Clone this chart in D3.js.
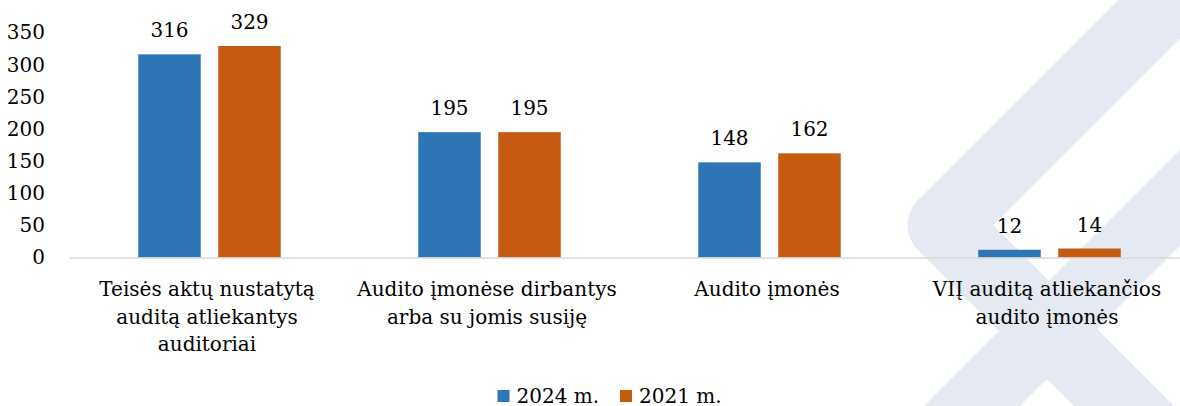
<!DOCTYPE html>
<html>
<head>
<meta charset="utf-8">
<script src="https://cdnjs.cloudflare.com/ajax/libs/d3/7.8.5/d3.min.js"></script>
<style>
  html, body { margin: 0; padding: 0; background: #fff; }
  svg { display: block; }
  svg text { font-family: "DejaVu Serif", serif; }
</style>
</head>
<body>
<script>
// chart data
const categories = [
  "Teisės aktų nustatytą\nauditą atliekantys\nauditoriai",
  "Audito įmonėse dirbantys\narba su jomis susiję",
  "Audito įmonės",
  "VIĮ auditą atliekančios\naudito įmonės"
];
const series = ["2024 m.", "2021 m."];
const values2024 = [316, 195, 148, 12];
const values2021 = [329, 195, 162, 14];
const yTicks = [0, 50, 100, 150, 200, 250, 300, 350];
const colors = ["#2e75b6", "#c55a11"];

const width = 1180, height = 406;
const baseY = 257.5, topY = 32.5;

const svg = d3.select("body").append("svg")
  .attr("width", width)
  .attr("height", height);

// background watermark (decoration)
const wm = svg.append("g").attr("fill", "none").attr("stroke", "#e4e9f2");
wm.append("path")
  .attr("d", "M1320,-151.5 L943,225 L1320,602")
  .attr("stroke-width", 71)
  .attr("stroke-linejoin", "round");
wm.append("path")
  .attr("d", "M1500,-122 L850,528")
  .attr("stroke-width", 68);

const x0 = d3.scaleBand()
  .domain(categories)
  .range([69.5, 1189.5]);

const x1 = d3.scaleBand()
  .domain(series)
  .range([68.75, 211.25])
  .paddingInner(0.21875);

const y = d3.scaleLinear()
  .domain([0, 350])
  .range([baseY, topY]);

// y axis labels
const yAxis = d3.axisLeft(y).tickValues(yTicks).tickSize(0).tickPadding(0);
svg.append("g")
  .attr("transform", "translate(45,0)")
  .call(yAxis)
  .call(g => g.select(".domain").remove())
  .selectAll("text")
  .attr("font-size", 20)
  .attr("fill", "#000");

// bars
const rows = categories.map((c, i) => ({ cat: c, vals: [values2024[i], values2021[i]] }));
const groups = svg.append("g").selectAll("g")
  .data(rows)
  .join("g")
  .attr("transform", d => `translate(${x0(d.cat)},0)`);

groups.selectAll("rect")
  .data(d => d.vals.map((v, j) => ({ key: series[j], v, j })))
  .join("rect")
  .attr("x", d => x1(d.key))
  .attr("y", d => y(d.v))
  .attr("width", x1.bandwidth())
  .attr("height", d => baseY - y(d.v))
  .attr("fill", d => colors[d.j]);

groups.selectAll("text.val")
  .data(d => d.vals.map((v, j) => ({ key: series[j], v, j })))
  .join("text")
  .attr("class", "val")
  .attr("x", d => x1(d.key) + x1.bandwidth() / 2)
  .attr("y", d => y(d.v) - 17)
  .attr("text-anchor", "middle")
  .attr("font-size", 20)
  .attr("fill", "#000")
  .text(d => d.v);

// x axis
const xAxis = d3.axisBottom(x0).tickSize(0).tickSizeOuter(0).tickFormat("");
const xg = svg.append("g")
  .attr("transform", `translate(0,${baseY})`)
  .call(xAxis);
xg.select(".domain").attr("stroke", "#d9d9d9").attr("stroke-width", 1.5);

xg.selectAll(".tick").append("text")
  .attr("text-anchor", "middle")
  .attr("font-size", 20)
  .attr("fill", "#000")
  .selectAll("tspan")
  .data(d => d.split("\n"))
  .join("tspan")
  .attr("x", -2.5)
  .attr("y", (d, i) => 38.5 + i * 27.5)
  .text(d => d);

// legend
const legendX = [497.5, 620];
const legend = svg.append("g").selectAll("g")
  .data(series)
  .join("g")
  .attr("transform", (d, i) => `translate(${legendX[i]},390)`);
legend.append("rect")
  .attr("width", 12)
  .attr("height", 12)
  .attr("fill", (d, i) => colors[i]);
legend.append("text")
  .attr("x", 19)
  .attr("y", 12.5)
  .attr("font-size", 20)
  .attr("fill", "#000")
  .text(d => d);
</script>
</body>
</html>
